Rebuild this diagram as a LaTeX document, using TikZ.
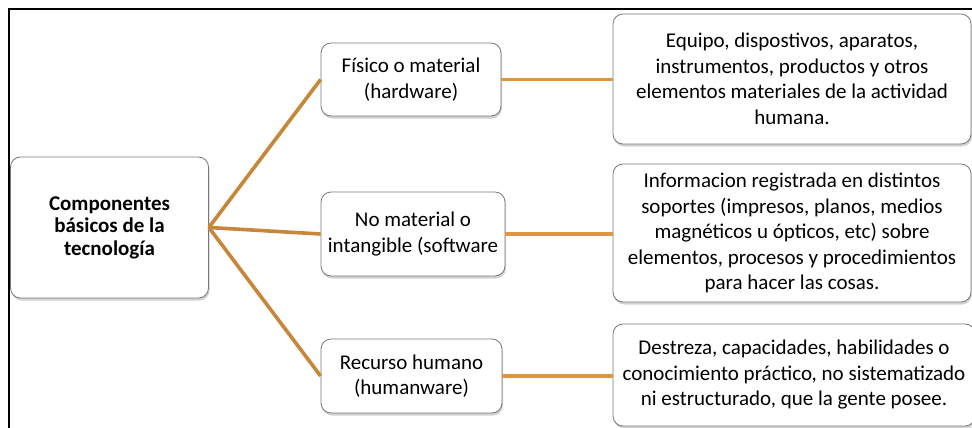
\documentclass[tikz,border=0pt]{standalone}
\usepackage{fontspec}
\setmainfont{Carlito}
\usetikzlibrary{shadows}
\definecolor{branch}{RGB}{200,134,58}
\definecolor{leafline}{RGB}{222,150,66}
\definecolor{boxedge}{RGB}{120,120,120}
\tikzset{
  card/.style={draw=boxedge, line width=0.8pt, fill=white, rounded corners=10pt,
    align=center, inner sep=1pt, text=black,
    drop shadow={opacity=0.35, shadow xshift=1pt, shadow yshift=-2.5pt}},
  bodytext/.style={font=\fontsize{21}{25.5}\selectfont},
  roottext/.style={font=\bfseries\fontsize{21}{22.5}\selectfont},
  trunk/.style={draw=branch, line width=3.6pt},
  twig/.style={draw=leafline, line width=3.6pt}
}
\begin{document}
\begin{tikzpicture}[x=1pt, y=-1pt]
  \useasboundingbox (0,0) rectangle (972,428);
  \fill[white] (0,0) rectangle (972,428);

  % outer frame
  \coordinate (fb) at (9,430);
  \coordinate (fc) at (9,9);
  \coordinate (fr) at (974,9);
  \draw[line width=1.5pt] (fb) -- (fc) -- (fr);

  % root
  \node[card, roottext, minimum width=198pt, minimum height=141pt] (root) at (109.5,227.5)
    {Componentes\\básicos de la\\tecnología};

  % middle column
  \node[card, bodytext, minimum width=180pt, minimum height=73pt] (m1) at (411,79.5)
    {Físico o material\\(hardware)};
  \node[card, bodytext, minimum width=184pt, minimum height=84pt] (m2) at (413,234)
    {No material o\\intangible (software};
  \node[card, bodytext, minimum width=181pt, minimum height=74pt] (m3) at (411.5,376)
    {Recurso humano\\(humanware)};

  % right column
  \node[card, bodytext, minimum width=358pt, minimum height=130pt] (r1) at (792,79)
    {Equipo, dispostivos, aparatos,\\instrumentos, productos y otros\\elementos materiales de la actividad\\humana.};
  \node[card, bodytext, minimum width=358pt, minimum height=138pt] (r2) at (792,233)
    {Informacion registrada en distintos\\soportes (impresos, planos, medios\\magnéticos u ópticos, etc) sobre\\elementos, procesos y procedimientos\\para hacer las cosas.};
  \node[card, bodytext, minimum width=362pt, minimum height=102pt] (r3) at (794,375)
    {Destreza, capacidades, habilidades o\\conocimiento práctico, no sistematizado\\ni estructurado, que la gente posee.};

  % connectors
  \draw[trunk] (root.east) -- (m1.west);
  \draw[trunk] (root.east) -- (m2.west);
  \draw[trunk] (root.east) -- (m3.west);
  \draw[twig] (m1.east) -- (r1.west |- m1.east);
  \draw[twig] (m2.east) -- (r2.west |- m2.east);
  \draw[twig] (m3.east) -- (r3.west |- m3.east);
\end{tikzpicture}
\end{document}
